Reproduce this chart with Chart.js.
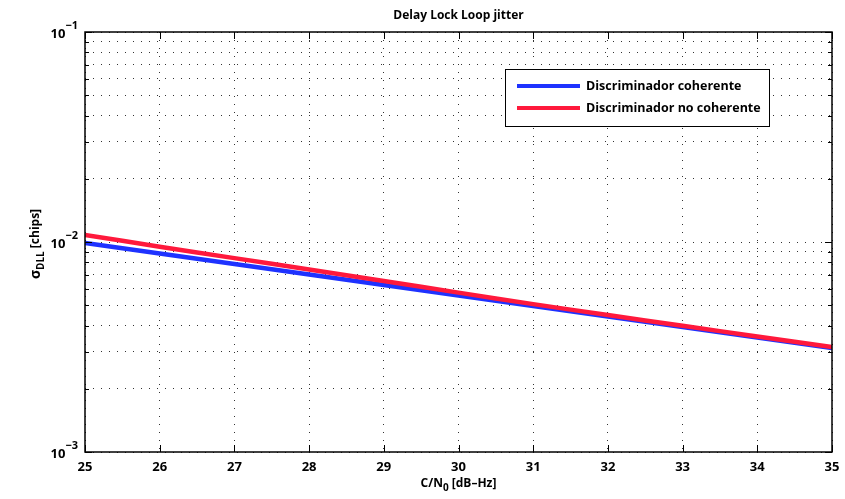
<!DOCTYPE html>
<html>
<head>
<meta charset="utf-8">
<script src="https://cdn.jsdelivr.net/npm/chart.js@4"></script>
<style>
  html, body { margin: 0; padding: 0; background: #fff; }
  #wrap { width: 845px; height: 499px; }
</style>
</head>
<body>
<div id="wrap"><canvas id="chart"></canvas></div>
<script>
// C/N0 in dB-Hz
const cn0 = [25, 26, 27, 28, 29, 30, 31, 32, 33, 34, 35];
// DLL jitter in chips
const coherente = [0.00989, 0.00881, 0.00785, 0.00700, 0.00624, 0.00556, 0.00495, 0.00442, 0.00394, 0.00351, 0.00313];
const noCoherente = [0.01080, 0.00950, 0.00838, 0.00740, 0.00652, 0.00574, 0.00506, 0.00449, 0.00399, 0.00355, 0.00316];

const seriesNames = ["Discriminador coherente", "Discriminador no coherente"];
const seriesColors = ["rgb(30,50,255)", "rgb(255,25,60)"];

const xTicks = [25, 26, 27, 28, 29, 30, 31, 32, 33, 34, 35];
const yDecades = [0.001, 0.01, 0.1];
const yDecadeExp = ["\u22123", "\u22122", "\u22121"];

const FONT = "'Open Sans', 'DejaVu Sans', sans-serif";

// all log ticks 1..9 x 10^n between 1e-3 and 1e-1
function logTicks() {
    let t = [];
    for (let e = -3; e < -1; e++) {
        for (let m = 1; m < 10; m++) t.push(+(m * Math.pow(10, e)).toPrecision(3));
    }
    t.push(0.1);
    return t;
}

// draw pieces of text one after the other, some shifted up/down
function drawRich(ctx, parts, x, y, align) {
    let total = 0;
    parts.forEach(p => {
        ctx.font = p.font;
        total += ctx.measureText(p.text).width;
    });
    let cx = align === "center" ? x - total / 2 : (align === "right" ? x - total : x);
    parts.forEach(p => {
        ctx.font = p.font;
        ctx.fillText(p.text, cx, y + (p.dy || 0));
        cx += ctx.measureText(p.text).width;
    });
}

const matlabAxes = {
    id: "matlabAxes",
    afterDraw(chart) {
        const ctx = chart.ctx;
        const a = chart.chartArea;
        const xs = chart.scales.x, ys = chart.scales.y;
        ctx.save();
        ctx.strokeStyle = "#000";
        ctx.lineWidth = 1;

        // inward ticks
        ctx.beginPath();
        xTicks.forEach(v => {
            const px = Math.round(xs.getPixelForValue(v)) + 0.5;
            ctx.moveTo(px, a.bottom); ctx.lineTo(px, a.bottom - 7);
            ctx.moveTo(px, a.top); ctx.lineTo(px, a.top + 7);
        });
        logTicks().forEach(v => {
            const py = Math.round(ys.getPixelForValue(v)) + 0.5;
            const major = yDecades.includes(v);
            const len = major ? 7 : 4;
            ctx.moveTo(a.left, py); ctx.lineTo(a.left + len, py);
            ctx.moveTo(a.right, py); ctx.lineTo(a.right - len, py);
        });
        ctx.stroke();

        // box
        ctx.lineWidth = 1.5;
        ctx.strokeRect(a.left, a.top, a.right - a.left, a.bottom - a.top);

        ctx.fillStyle = "#000";
        ctx.textBaseline = "middle";

        // x tick labels
        ctx.font = "bold 13px " + FONT;
        ctx.textAlign = "center";
        xTicks.forEach(v => {
            ctx.fillText(String(v), xs.getPixelForValue(v), a.bottom + 15);
        });

        // y tick labels 10^n
        ctx.textAlign = "left";
        yDecades.forEach((v, i) => {
            const py = ys.getPixelForValue(v);
            drawRich(ctx, [
                { text: "10", font: "bold 13px " + FONT, dy: 2 },
                { text: yDecadeExp[i], font: "bold 11px " + FONT, dy: -6 }
            ], 78, py, "right");
        });

        // title
        drawRich(ctx, [{ text: "Delay Lock Loop jitter", font: "bold 12px " + FONT }], (a.left + a.right) / 2, 16, "center");

        // x axis title
        drawRich(ctx, [
            { text: "C/N", font: "bold 12px " + FONT },
            { text: "0", font: "bold 10px " + FONT, dy: 4 },
            { text: " [dB\u2013Hz]", font: "bold 12px " + FONT }
        ], (a.left + a.right) / 2, 484, "center");

        // y axis title, rotated
        ctx.save();
        ctx.translate(36, (a.top + a.bottom) / 2 + 2);
        ctx.rotate(-Math.PI / 2);
        drawRich(ctx, [
            { text: "\u03c3", font: "bold 14px " + FONT },
            { text: "DLL", font: "bold 10px " + FONT, dy: 5 },
            { text: " [chips]", font: "bold 12px " + FONT }
        ], 0, 0, "center");
        ctx.restore();

        // legend box
        const lx = 505, ly = 69, lw = 264, lh = 57;
        ctx.fillStyle = "#fff";
        ctx.fillRect(lx, ly, lw, lh);
        ctx.lineWidth = 1;
        ctx.strokeStyle = "#000";
        ctx.strokeRect(lx + 0.5, ly + 0.5, lw, lh);
        chart.data.datasets.forEach((ds, i) => {
            const yy = ly + 17 + i * 22;
            ctx.strokeStyle = ds.borderColor;
            ctx.lineWidth = 4;
            ctx.beginPath();
            ctx.moveTo(lx + 12, yy); ctx.lineTo(lx + 75, yy);
            ctx.stroke();
            ctx.fillStyle = "#000";
            ctx.font = "bold 12.5px " + FONT;
            ctx.textAlign = "left";
            ctx.fillText(ds.label, lx + 81, yy);
        });
        ctx.restore();
    }
};

new Chart(document.getElementById("chart"), {
    type: "line",
    data: {
        datasets: [
            {
                label: seriesNames[0],
                data: cn0.map((x, i) => ({ x: x, y: coherente[i] })),
                borderColor: seriesColors[0],
                borderWidth: 4.5,
                pointRadius: 0,
                tension: 0.3,
                order: 1
            },
            {
                label: seriesNames[1],
                data: cn0.map((x, i) => ({ x: x, y: noCoherente[i] })),
                borderColor: seriesColors[1],
                borderWidth: 4.5,
                pointRadius: 0,
                tension: 0.3,
                order: 0
            }
        ]
    },
    options: {
        responsive: true,
        maintainAspectRatio: false,
        animation: false,
        layout: { padding: { left: 85, top: 32, right: 13, bottom: 47 } },
        plugins: { legend: { display: false }, tooltip: { enabled: false }, title: { display: false } },
        scales: {
            x: {
                type: "linear",
                min: 25,
                max: 35,
                afterBuildTicks: s => { s.ticks = xTicks.map(v => ({ value: v })); },
                ticks: { display: false },
                grid: { color: "#333", lineWidth: 1, drawTicks: false },
                border: { display: false, dash: [1, 7] }
            },
            y: {
                type: "logarithmic",
                min: 0.001,
                max: 0.1,
                afterBuildTicks: s => { s.ticks = logTicks().map(v => ({ value: v })); },
                ticks: { display: false },
                grid: { color: "#333", lineWidth: 1, drawTicks: false },
                border: { display: false, dash: [1, 7] }
            }
        }
    },
    plugins: [matlabAxes]
});
</script>
</body>
</html>
